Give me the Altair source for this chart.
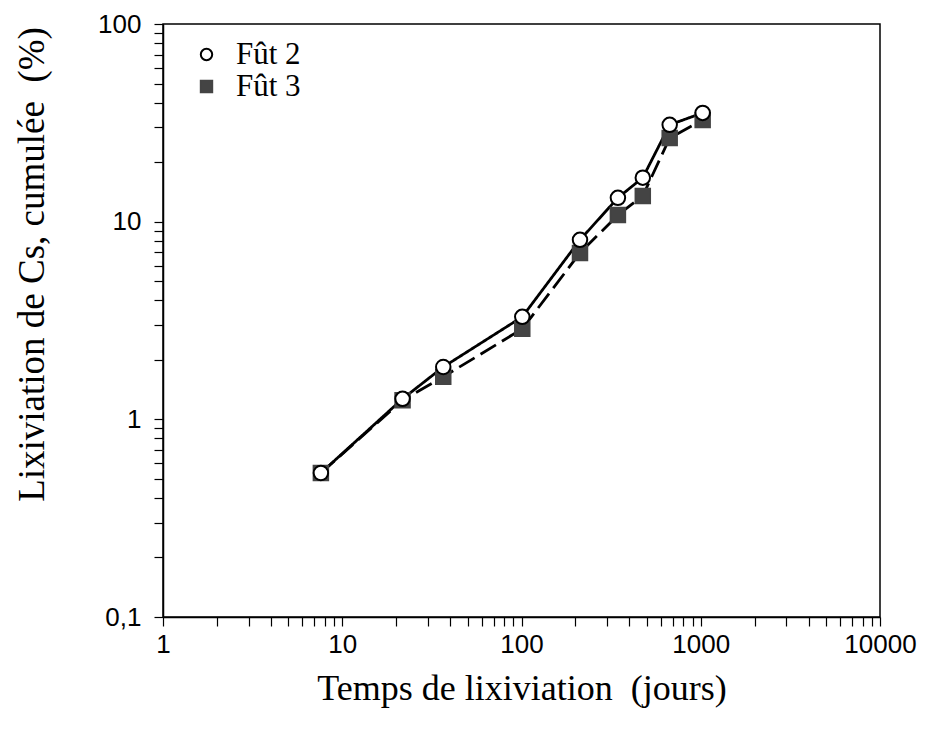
import altair as alt
import pandas as pd

# Data
days = [7.6, 21.7, 36.6, 101, 212, 345, 475, 671, 1025]
fut2 = [0.535, 1.27, 1.84, 3.30, 8.09, 13.2, 16.7, 30.9, 35.5]
fut3 = [0.535, 1.25, 1.64, 2.87, 6.95, 10.8, 13.5, 26.5, 32.7]
series = ["Fût 2", "Fût 3"]
traits = ["plein", "tirets"]

x_decades = [1, 10, 100, 1000, 10000]
y_decades = [0.1, 1, 10, 100]

rows = []
for d, v in zip(days, fut3):
    rows.append({"jours": d, "val": v, "serie": series[1], "trait": traits[1]})
for d, v in zip(days, fut2):
    rows.append({"jours": d, "val": v, "serie": series[0], "trait": traits[0]})
df = pd.DataFrame(rows)

def minor_ticks(decades):
    vals = []
    for base in decades[:-1]:
        for m in range(1, 10):
            vals.append(round(m * base, 6))
    vals.append(decades[-1])
    return vals

x_vals = minor_ticks(x_decades)
y_vals = minor_ticks(y_decades)

x_label = "indexof([1,10,100,1000,10000], datum.value) >= 0 ? toString(datum.value) : ''"
y_label = "datum.value == 0.1 ? '0,1' : (indexof([1,10,100], datum.value) >= 0 ? toString(datum.value) : '')"

x_enc = alt.X(
    "jours:Q",
    scale=alt.Scale(type="log", domain=[1, 10000], nice=False),
    axis=alt.Axis(
        title="Temps de lixiviation\u00a0\u00a0(jours)",
        values=x_vals,
        labelExpr=x_label,
        labelOverlap=False,
        labelFlush=False,
        grid=False,
        labelPadding=5,
        titlePadding=14,
    ),
)
y_enc = alt.Y(
    "val:Q",
    scale=alt.Scale(type="log", domain=[0.1, 100], nice=False),
    axis=alt.Axis(
        title="Lixiviation de Cs, cumulée\u00a0\u00a0(%)",
        values=y_vals,
        labelExpr=y_label,
        labelOverlap=False,
        labelFlush=False,
        grid=False,
        labelPadding=13,
        titleX=-112,
        titleY=240,
        titleBaseline="bottom",
        titleAlign="center",
        titleAngle=270,
        titleFontSize=37,
    ),
)

lines = alt.Chart(df).mark_line(strokeWidth=2.8, color="black").encode(
    x=x_enc,
    y=y_enc,
    detail="serie:N",
    strokeDash=alt.StrokeDash(
        "trait:N",
        scale=alt.Scale(domain=traits, range=[[1, 0], [18, 7]]),
        legend=None,
    ),
)

points = alt.Chart(df).mark_point(filled=True, size=210, strokeWidth=2, opacity=1).encode(
    x=x_enc,
    y=y_enc,
    shape=alt.Shape(
        "serie:N",
        scale=alt.Scale(domain=series, range=["circle", "square"]),
        legend=alt.Legend(
            title=None,
            orient="none",
            legendX=28,
            legendY=15,
            labelFont="Liberation Serif",
            labelFontSize=31,
            labelColor="black",
            symbolSize=130,
            symbolStrokeWidth=2,
            labelOffset=14,
            rowPadding=0,
        ),
    ),
    fill=alt.Fill("serie:N", scale=alt.Scale(domain=series, range=["white", "#444444"])),
    stroke=alt.Stroke("serie:N", scale=alt.Scale(domain=series, range=["black", "#444444"])),
)

chart = (
    alt.layer(lines, points)
    .properties(
        width=717,
        height=593,
        autosize=alt.AutoSizeParams(type="none"),
        padding={"left": 155, "top": 16, "right": 40, "bottom": 100},
        background="white",
    )
    .configure_view(stroke="black", strokeWidth=1.5)
    .configure_axis(
        domainColor="black",
        domainWidth=1.5,
        tickColor="black",
        tickWidth=1.2,
        tickSize=9,
        labelFont="Liberation Sans",
        labelFontSize=26,
        labelColor="black",
        titleFont="Liberation Serif",
        titleFontSize=36,
        titleFontWeight="normal",
        titleColor="black",
    )
)

chart.save("out.html", embed_options={"renderer": "svg", "actions": False})
